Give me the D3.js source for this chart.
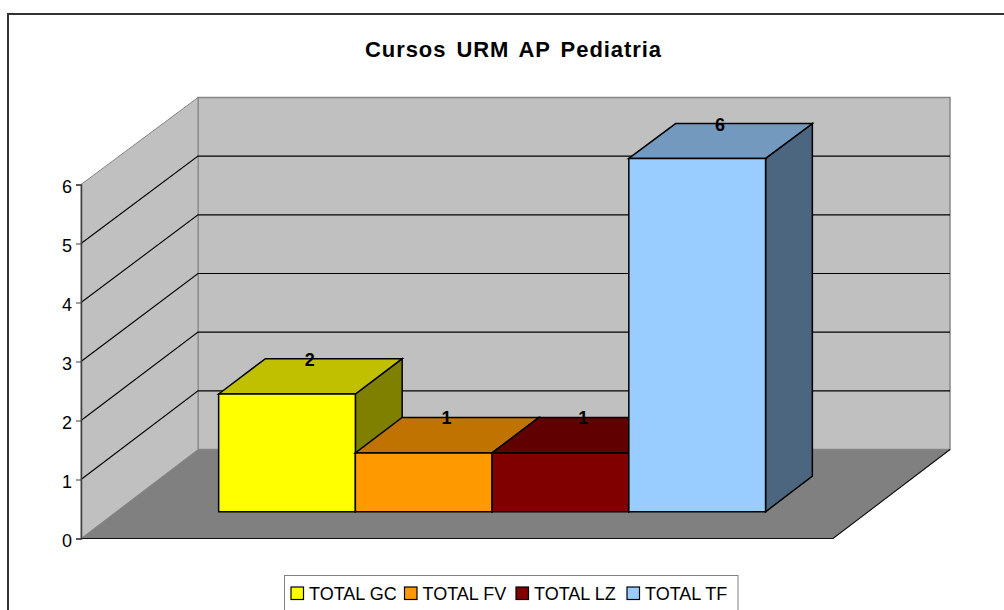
<!DOCTYPE html>
<html>
<head>
<meta charset="utf-8">
<script src="https://cdn.jsdelivr.net/npm/d3@7"></script>
<style>
  html, body { margin: 0; padding: 0; background: #fff; overflow: hidden; }
  text { font-family: "Liberation Sans", Arial, sans-serif; fill: #000; }
</style>
</head>
<body>
<svg id="chart" width="1004" height="610"></svg>
<script>
const titleText = "Cursos URM AP Pediatria";
const categories = ["TOTAL GC", "TOTAL FV", "TOTAL LZ", "TOTAL TF"];
const values = [2, 1, 1, 6];
const tickValues = [0, 1, 2, 3, 4, 5, 6];
const frontColors = ["#ffff00", "#ff9900", "#800000", "#99ccff"];
const topColors = ["#c0c000", "#c07300", "#600000", "#7399bf"];
const sideColors = ["#808000", "#804d00", "#400000", "#4d6680"];

const svg = d3.select("#chart");

// frame
svg.append("rect")
  .attr("x", 8).attr("y", 14)
  .attr("width", 1100).attr("height", 700)
  .attr("fill", "#fff").attr("stroke", "#333").attr("stroke-width", 2);

svg.append("text")
  .attr("x", 513).attr("y", 56.5)
  .attr("text-anchor", "middle")
  .attr("font-size", 22).attr("font-weight", "bold")
  .attr("word-spacing", 3)
  .attr("textLength", 296)
  .text(titleText);

// SCALES
const yFront = d3.scaleLinear().domain([0, 6]).range([538.5, 184.5]);
const yBack = d3.scaleLinear().domain([0, 6]).range([449.5, 97.5]);
const xScale = d3.scaleBand().domain(categories).range([81, 833]).paddingInner(0).paddingOuter(0.75);
const depthX = 117;

// depth: 0 = front of the floor, 1 = back wall
const project = (x, v, d) => [x + depthX * d, yFront(v) + (yBack(v) - yFront(v)) * d];
const poly = (pts) => "M" + pts.map((p) => p.join(",")).join("L") + "Z";

const xMin = xScale.range()[0], xMax = xScale.range()[1], vTop = 6;

// WALLS AND FLOOR
svg.append("path")
  .attr("d", poly([project(xMin, 0, 0), project(xMin, 0, 1), project(xMax, 0, 1), project(xMax, 0, 0)]))
  .attr("fill", "#808080").attr("stroke", "#808080").attr("stroke-width", 1);
svg.append("path")
  .attr("d", poly([project(xMin, 0, 1), project(xMin, vTop, 1), project(xMax, vTop, 1), project(xMax, 0, 1)]))
  .attr("fill", "#c0c0c0").attr("stroke", "#868686").attr("stroke-width", 1.5);
svg.append("path")
  .attr("d", poly([project(xMin, 0, 0), project(xMin, vTop, 0), project(xMin, vTop, 1), project(xMin, 0, 1)]))
  .attr("fill", "#c0c0c0").attr("stroke", "#868686").attr("stroke-width", 1);

// gridlines
const grid = tickValues.filter((t) => t > 0 && t < 6);
svg.append("g").selectAll("path").data(grid).join("path")
  .attr("d", (t) => d3.line()([project(xMin, t, 0), project(xMin, t, 1), project(xMax, t, 1)]))
  .attr("fill", "none").attr("stroke", "#000").attr("stroke-width", 1.1);

// floor front edge
svg.append("path")
  .attr("d", d3.line()([project(xMin, 0, 0), project(xMax, 0, 0), project(xMax, 0, 1)]))
  .attr("fill", "none").attr("stroke", "#111").attr("stroke-width", 1.1);

// AXIS
const gy = svg.append("g")
  .attr("transform", `translate(${xMin},0)`)
  .call(d3.axisLeft(yFront).tickValues(tickValues).tickFormat(d3.format("d")).tickSize(5).tickPadding(4));
gy.select(".domain").attr("stroke", "#404040").attr("stroke-width", 1.5);
gy.selectAll("line").attr("stroke", "#404040").attr("stroke-width", 1);
gy.selectAll("text").attr("font-size", 18).attr("dy", "0.42em").attr("font-family", '"Liberation Sans", Arial, sans-serif').attr("fill", "#000");

// BARS, left to right so that each one covers the previous side face
const dFront = 0.3, dBack = 0.7;
const bars = svg.append("g").selectAll("g")
  .data(categories.map((c, i) => ({ c, i, v: values[i] })))
  .join("g")
  .attr("stroke", "#000").attr("stroke-width", 1.5).attr("stroke-linejoin", "miter");

const xL = (d) => xScale(d.c);
const xR = (d) => xScale(d.c) + xScale.bandwidth();

bars.append("path")
  .attr("d", (d) => poly([project(xR(d), 0, dFront), project(xR(d), 0, dBack), project(xR(d), d.v, dBack), project(xR(d), d.v, dFront)]))
  .attr("fill", (d) => sideColors[d.i]);
bars.append("path")
  .attr("d", (d) => poly([project(xL(d), d.v, dFront), project(xL(d), d.v, dBack), project(xR(d), d.v, dBack), project(xR(d), d.v, dFront)]))
  .attr("fill", (d) => topColors[d.i]);
bars.append("path")
  .attr("d", (d) => poly([project(xL(d), 0, dFront), project(xL(d), d.v, dFront), project(xR(d), d.v, dFront), project(xR(d), 0, dFront)]))
  .attr("fill", (d) => frontColors[d.i]);

// data labels sit on the back edge of each top
svg.append("g").selectAll("text")
  .data(categories.map((c, i) => ({ c, v: values[i] })))
  .join("text")
  .attr("x", (d) => project(xScale(d.c) + xScale.bandwidth() / 2, d.v, 0.5)[0] - 0.7)
  .attr("y", (d) => project(0, d.v, dBack)[1] + 7)
  .attr("text-anchor", "middle")
  .attr("font-size", 18).attr("font-weight", "bold")
  .text((d) => d.v);

// LEGEND
const legendX = [291, 404.5, 516, 627];
const legend = svg.append("g");
legend.append("rect")
  .attr("x", 284.5).attr("y", 575.5)
  .attr("width", 453.5).attr("height", 60)
  .attr("fill", "#fff").attr("stroke", "#808080").attr("stroke-width", 1);
const items = legend.selectAll("g").data(categories).join("g")
  .attr("transform", (d, i) => `translate(${legendX[i]},587)`);
items.append("rect")
  .attr("width", 12.5).attr("height", 12.5)
  .attr("fill", (d, i) => frontColors[i])
  .attr("stroke", "#000").attr("stroke-width", 1.2);
items.append("text")
  .attr("x", 18).attr("y", 12.5)
  .attr("font-size", 18)
  .text((d) => d);
</script>
</body>
</html>
